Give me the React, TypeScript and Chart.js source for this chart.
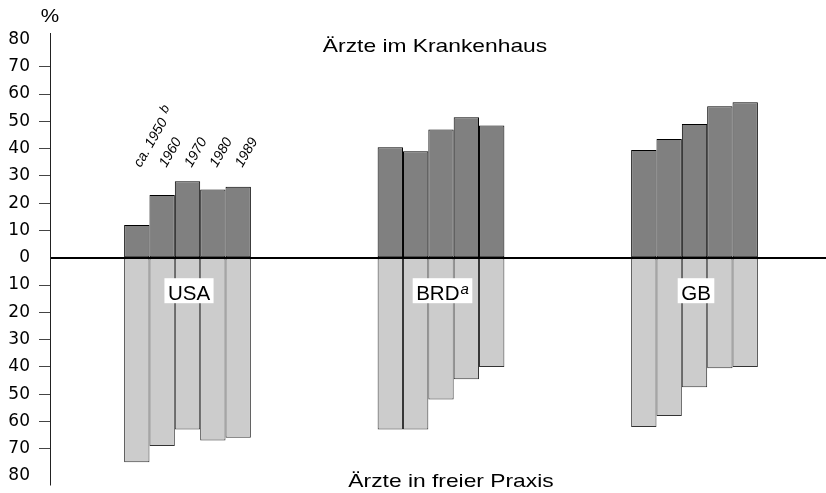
import React, { useEffect, useRef } from 'react';
import { Chart, registerables } from 'chart.js';

Chart.register(...registerables);

// ---- data ----
const countries = ['USA', 'BRD', 'GB'];
const countrySup = ['', 'a', ''];
const years = ['ca. 1950', '1960', '1970', '1980', '1989'];
const yearSup = ['b', '', '', '', ''];

// Ärzte im Krankenhaus (%), one value per year
const hospitalUSA = [12, 23, 28, 25, 26];
const hospitalBRD = [40.5, 39, 47, 51.5, 48.5];
const hospitalGB = [39.5, 43.5, 49, 55.5, 57];

// Ärzte in freier Praxis (%), one value per year
const practiceUSA = [75, 69, 63, 67, 66];
const practiceBRD = [63, 63, 52, 44.5, 40];
const practiceGB = [62, 58, 47.5, 40.5, 40];

const yMin = -80;
const yMax = 80;
const yStep = 10;

const topTitle = 'Ärzte im Krankenhaus';
const bottomTitle = 'Ärzte in freier Praxis';
const unitLabel = '%';

const SANS = '"Liberation Sans", Arial, Helvetica, sans-serif';
const TICK_FONT = '"DejaVu Sans", "Liberation Sans", sans-serif';

export default function App() {
  const ref = useRef<HTMLCanvasElement | null>(null);

  useEffect(() => {
    const prevMargin = document.body.style.margin;
    document.body.style.margin = '0';
    const canvas = ref.current;
    if (!canvas) return;

    const hospital = [hospitalUSA, hospitalBRD, hospitalGB];
    const practice = [practiceUSA, practiceBRD, practiceGB];

    const datasets: any[] = [];
    years.forEach((yr, i) => {
      datasets.push({
        label: 'Krankenhaus ' + yr,
        stack: 's' + i,
        data: countries.map((_, k) => ({ x: k, y: hospital[k][i] })),
        backgroundColor: '#808080',
        borderColor: '#000000',
        borderWidth: 1,
        borderSkipped: false,
        categoryPercentage: 0.5,
        barPercentage: 1,
      });
      datasets.push({
        label: 'freie Praxis ' + yr,
        stack: 's' + i,
        data: countries.map((_, k) => ({ x: k, y: -practice[k][i] })),
        backgroundColor: '#cccccc',
        borderColor: '#333333',
        borderWidth: 1,
        borderSkipped: false,
        categoryPercentage: 0.5,
        barPercentage: 1,
      });
    });

    const overlay = {
      id: 'overlay',
      afterDatasetsDraw(chart: any) {
        const { ctx, chartArea } = chart;
        const ys = chart.scales.y;
        const y0 = Math.round(ys.getPixelForValue(0));
        ctx.save();
        ctx.strokeStyle = '#000';
        ctx.lineWidth = 2;
        ctx.beginPath();
        ctx.moveTo(chartArea.left, y0);
        ctx.lineTo(chartArea.right, y0);
        ctx.stroke();
        ctx.lineWidth = 1;
        ctx.strokeStyle = '#222';
        ctx.beginPath();
        ctx.moveTo(chartArea.left + 0.5, chartArea.top - 6.5);
        ctx.lineTo(chartArea.left + 0.5, chartArea.bottom + 9.5);
        ctx.stroke();
        ctx.restore();
      },
      afterDraw(chart: any) {
        const { ctx } = chart;
        const xs = chart.scales.x;
        const ys = chart.scales.y;
        ctx.save();
        ctx.fillStyle = '#000';

        const stretched = (text: string, cx: number, by: number, font: string, sx: number) => {
          ctx.save();
          ctx.font = font;
          ctx.translate(cx, by);
          ctx.scale(sx, 1);
          ctx.textAlign = 'center';
          ctx.textBaseline = 'alphabetic';
          ctx.fillText(text, 0, 0);
          ctx.restore();
        };
        stretched(unitLabel, 50, 22, `18px ${SANS}`, 1.15);
        stretched(topTitle, 435, 51.5, `19px ${SANS}`, 1.2);
        stretched(bottomTitle, 451, 486.5, `19px ${SANS}`, 1.2);

        // year labels above the USA bars
        years.forEach((yr, i) => {
          const bar = chart.getDatasetMeta(2 * i).data[0];
          const px = bar.x + 4;
          const py = 168;
          ctx.save();
          ctx.translate(px, py);
          ctx.rotate(-Math.PI / 3);
          ctx.font = `italic 14px ${SANS}`;
          ctx.textAlign = 'left';
          ctx.textBaseline = 'alphabetic';
          ctx.fillText(yr, 0, 0);
          if (yearSup[i]) {
            const w = ctx.measureText(yr + ' ').width + 2;
            ctx.font = `italic 13px ${SANS}`;
            ctx.fillText(yearSup[i], w, -5);
          }
          ctx.restore();
        });

        // country labels in white boxes
        const boxTop = ys.getPixelForValue(-7.5);
        const base = ys.getPixelForValue(-15.4);
        countries.forEach((lab, k) => {
          const cx = xs.getPixelForValue(k) + 1.5;
          ctx.font = `20.5px ${SANS}`;
          const w1 = ctx.measureText(lab).width;
          let w2 = 0;
          if (countrySup[k]) {
            ctx.font = `italic 15px ${SANS}`;
            w2 = ctx.measureText(countrySup[k]).width + 1;
          }
          const tw = w1 + w2;
          const pad = 3.5;
          ctx.fillStyle = '#ffffff';
          ctx.fillRect(cx - tw / 2 - pad, boxTop, tw + 2 * pad, 25);
          ctx.fillStyle = '#000';
          ctx.textAlign = 'left';
          ctx.textBaseline = 'alphabetic';
          ctx.font = `20.5px ${SANS}`;
          ctx.fillText(lab, cx - tw / 2, base);
          if (w2) {
            ctx.font = `italic 15px ${SANS}`;
            ctx.fillText(countrySup[k], cx - tw / 2 + w1 + 1, base - 6);
          }
        });
        ctx.restore();
      },
    };

    const chart = new Chart(canvas, {
      type: 'bar',
      data: { datasets },
      options: {
        animation: false,
        responsive: false,
        devicePixelRatio: 1,
        layout: { padding: { top: 39.5, bottom: 17, left: 0, right: 0 } },
        plugins: {
          legend: { display: false },
          tooltip: { enabled: false },
        },
        scales: {
          x: {
            type: 'linear',
            min: -0.5424,
            max: 2.5187,
            offset: false,
            display: false,
            afterBuildTicks: (s: any) => {
              s.ticks = countries.map((_, k) => ({ value: k }));
            },
            afterFit: (s: any) => {
              s.height = 0;
              s.paddingTop = 0;
              s.paddingBottom = 0;
              s.paddingLeft = 0;
              s.paddingRight = 0;
            },
          },
          y: {
            type: 'linear',
            stacked: true,
            min: yMin,
            max: yMax,
            afterFit: (s: any) => {
              s.width = 50;
              s.paddingTop = 0;
              s.paddingBottom = 0;
            },
            ticks: {
              stepSize: yStep,
              padding: 9,
              color: '#000',
              font: { family: TICK_FONT, size: 17 },
              callback: (v: any) => String(Math.abs(Number(v))),
            },
            grid: {
              drawOnChartArea: false,
              drawTicks: true,
              tickLength: 11,
              tickWidth: 1,
              tickColor: (c: any) => {
                const v = c.tick ? c.tick.value : 0;
                return v === 0 || Math.abs(v) === 80 ? 'rgba(0,0,0,0)' : '#444';
              },
            },
            border: { display: false },
          },
        },
      } as any,
      plugins: [overlay],
    });

    return () => {
      chart.destroy();
      document.body.style.margin = prevMargin;
    };
  }, []);

  return <canvas ref={ref} width={826} height={493} />;
}
